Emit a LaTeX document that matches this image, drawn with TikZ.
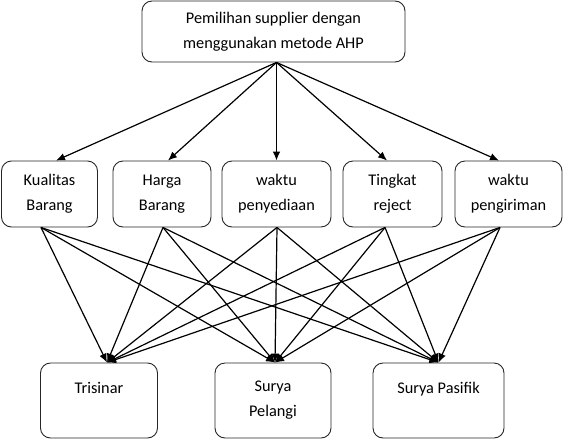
\documentclass[tikz,border=0pt]{standalone}
\usepackage{fontspec}
\setmainfont{Carlito}
\usetikzlibrary{arrows.meta,calc}
\begin{document}
\begin{tikzpicture}[x=1pt,y=-1pt,
  box/.style={draw=black!85,line width=0.9pt,rounded corners=10pt,align=center,
    inner sep=0pt,font=\fontsize{16.3}{25}\selectfont},
  arr/.style={line width=1.2pt,-{Latex[length=9pt,width=7.5pt]}}]
\useasboundingbox (0,0) rectangle (564,442);
% top
\node[box,minimum width=263pt,minimum height=61pt] (top) at (273.5,31.5)
  {Pemilihan supplier dengan\\menggunakan metode AHP};
% middle row
\node[box,minimum width=96pt,minimum height=66pt] (K) at (49.5,194) {Kualitas\\Barang};
\node[box,minimum width=98pt,minimum height=66pt] (H) at (162,194) {Harga\\Barang};
\node[box,minimum width=109pt,minimum height=66pt] (P) at (276.5,194) {waktu\\penyediaan};
\node[box,minimum width=99pt,minimum height=66pt] (T) at (392.5,194) {Tingkat\\reject};
\node[box,minimum width=107pt,minimum height=66pt] (G) at (508.5,194) {waktu\\pengiriman};
% bottom row
\node[box,minimum width=117pt,minimum height=75pt] (B1) at (99,400.5) {Trisinar\\\mbox{}};
\node[box,minimum width=116pt,minimum height=75pt] (B2) at (273,400.5) {Surya\\Pelangi};
\node[box,minimum width=131pt,minimum height=75pt] (B3) at (438.5,400.5) {Surya Pasifik\\\mbox{}};
% connection points
\coordinate (o) at ([xshift=3pt]top.south);
\coordinate (e1) at ([xshift=8pt]B1.north);
\coordinate (e2) at ([xshift=2pt]B2.north);
\coordinate (e3) at ([xshift=0pt]B3.north);
\coordinate (sK) at ([xshift=-8.5pt]K.south);
\coordinate (sH) at ([xshift=1pt]H.south);
\coordinate (sP) at ([xshift=0.5pt]P.south);
\coordinate (sT) at ([xshift=-7.5pt]T.south);
\coordinate (sG) at ([xshift=-8.5pt]G.south);
% top arrows
\draw[arr] (o) -- ([xshift=6.5pt]K.north);
\draw[arr] (o) -- ([xshift=6pt]H.north);
\draw[arr] (o) -- (P.north);
\draw[arr] (o) -- ([xshift=-5.5pt]T.north);
\draw[arr] (o) -- ([xshift=-9.5pt]G.north);
% bottom arrows
\foreach \s in {sK,sH,sP,sT,sG}{
  \foreach \e in {e1,e2,e3}{
    \draw[arr] (\s) -- (\e);
  }
}
\end{tikzpicture}
\end{document}
